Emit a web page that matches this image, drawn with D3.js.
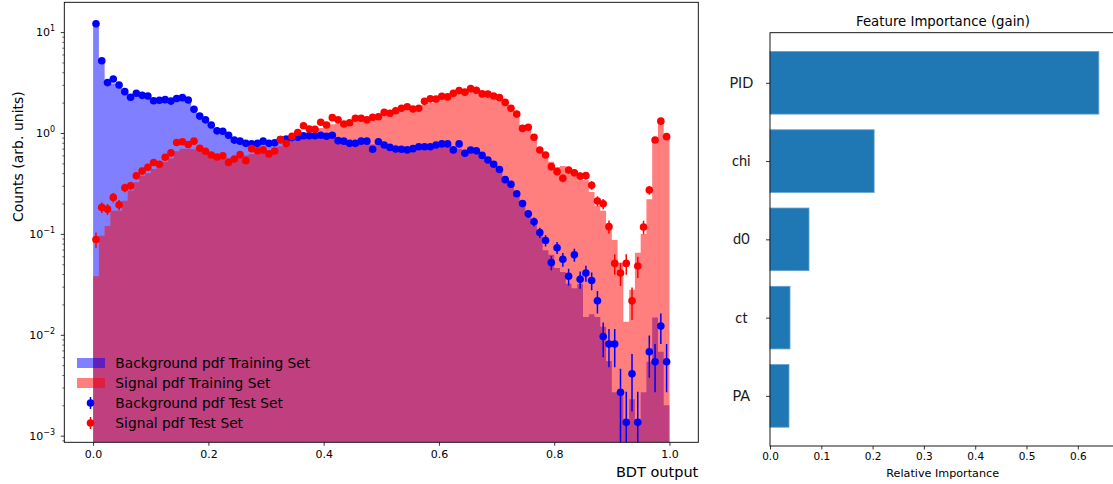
<!DOCTYPE html>
<html><head><meta charset="utf-8">
<script src="https://cdn.jsdelivr.net/npm/d3@7"></script>
<style>
html,body{margin:0;padding:0;background:#fff;}
svg text{font-family:"DejaVu Sans",sans-serif;fill:#000;}
</style></head>
<body>
<svg id="c" width="1113" height="484"></svg>
<script>
// ---------------- DATA ----------------
const nBins = 100;
const bkgTrain = [12.0,5.3,3.3,3.1,2.8,2.6,2.4,2.35,2.3,2.25,2.15,2.1,2.1,2.1,2.15,2.2,2.1,1.8,1.55,1.38,
1.22,1.1,1.0,0.93,0.86,0.82,0.79,0.78,0.78,0.8,0.81,0.82,0.85,0.87,0.89,0.9,0.92,0.93,0.93,0.92,
0.9,0.88,0.85,0.82,0.8,0.79,0.79,0.78,0.77,0.75,0.73,0.71,0.7,0.7,0.7,0.71,0.72,0.73,0.74,0.75,
0.75,0.74,0.72,0.7,0.68,0.66,0.63,0.58,0.52,0.47,0.41,0.35,0.3,0.24,0.19,0.15,0.122,0.098,0.069,0.062,
0.046,0.042,0.032,0.029,0.032,0.015,0.016,0.015,0.012,0.0055,0.0027,0.0027,0.00135,0.0023,0.00135,0.0027,0.0054,0.0148,0.0068,0.002];
const sigTrain = [0.038,0.096,0.12,0.17,0.17,0.213,0.268,0.325,0.377,0.4,0.44,0.47,0.52,0.56,0.66,0.7,0.7,0.69,0.66,0.63,
0.6,0.58,0.57,0.57,0.57,0.59,0.6,0.62,0.64,0.66,0.68,0.71,0.74,0.78,0.83,0.9,0.98,1.03,1.07,1.12,
1.17,1.22,1.25,1.27,1.28,1.31,1.33,1.35,1.38,1.42,1.48,1.53,1.59,1.64,1.68,1.72,1.8,1.9,2.0,2.1,
2.2,2.28,2.38,2.48,2.52,2.55,2.53,2.45,2.35,2.22,2.08,1.9,1.68,1.5,1.2,1.07,0.85,0.67,0.6,0.52,
0.46,0.47,0.43,0.4,0.375,0.34,0.26,0.19,0.17,0.118,0.087,0.052,0.0135,0.028,0.065,0.1,0.22,0.85,1.22,0.92];
const bkgTest = [12.1,5.2,3.16,3.43,2.99,2.57,2.26,2.48,2.36,2.33,2.09,2.11,2.14,2.07,2.2,2.24,2.12,1.72,1.47,1.35,
1.2,1.05,1.04,0.95,0.85,0.83,0.79,0.78,0.79,0.83,0.79,0.8,0.86,0.87,0.9,0.91,0.94,0.94,0.94,0.95,
0.93,0.95,0.84,0.83,0.79,0.79,0.83,0.83,0.69,0.82,0.76,0.72,0.695,0.69,0.68,0.7,0.73,0.73,0.73,0.76,
0.78,0.78,0.68,0.78,0.63,0.678,0.665,0.6,0.54,0.49,0.435,0.345,0.31,0.25,0.2,0.158,0.132,0.103,0.086,0.052,
0.073,0.056,0.038,0.062,0.0355,0.041,0.0345,0.0217,0.0096,0.0081,0.0081,0.0027,0.00136,0.0041,0.00136,0,0.0068,0.0054,0.0122,0.0054];
const sigTest = [0.088,0.183,0.176,0.23,0.194,0.286,0.3,0.377,0.42,0.457,0.51,0.49,0.574,0.635,0.805,0.82,0.77,0.83,0.705,0.66,
0.605,0.578,0.596,0.51,0.553,0.61,0.532,0.7,0.668,0.68,0.62,0.662,0.86,0.785,0.925,1.01,1.18,1.095,1.09,1.28,
1.2,1.42,1.35,1.23,1.265,1.4,1.4,1.35,1.43,1.45,1.6,1.57,1.66,1.76,1.82,1.73,1.76,2.06,2.18,2.17,
2.31,2.28,2.47,2.63,2.54,2.75,2.65,2.44,2.43,2.33,2.24,2.01,1.76,1.54,1.11,1.14,0.906,0.678,0.605,0.464,
0.414,0.356,0.43,0.404,0.375,0.378,0.303,0.212,0.199,0.118,0.051,0.041,0.051,0.0217,0.048,0.117,0.272,0.852,1.31,0.92];
// test-set counts per unit of normalised density (for Poisson error bars)
const bkgTestNorm = 735, sigTestNorm = 370;

const xTicksLeft = [0.0,0.2,0.4,0.6,0.8,1.0];
const yDecades = [-3,-2,-1,0,1];
const legendLabels = ["Background pdf Training Set","Signal pdf Training Set","Background pdf Test Set","Signal pdf Test Set"];

const features = ["PA","ct","d0","chi","PID"];
const importance = [0.037,0.039,0.076,0.203,0.641];
const xTicksRight = [0,0.1,0.2,0.3,0.4,0.5,0.6];

// ---------------- LEFT CHART ----------------
const svg = d3.select("#c");
const L = {left:64.3, right:698.3, top:2.3, bottom:442.3};
const x = d3.scaleLinear().domain([-0.05,1.05]).range([L.left,L.right]);
const yMin = Math.pow(10,-3.0654), yMax = Math.pow(10,1.2953);
const y = d3.scaleLog().domain([yMin,yMax]).range([L.bottom,L.top]);

svg.append("defs").append("clipPath").attr("id","clipL")
  .append("rect").attr("x",L.left).attr("y",L.top).attr("width",L.right-L.left).attr("height",L.bottom-L.top);

const gL = svg.append("g");
const plot = gL.append("g").attr("clip-path","url(#clipL)");
const edges = d3.range(nBins+1).map(i=>i/nBins);
const centers = d3.range(nBins).map(i=>(i+0.5)/nBins);
const lineGen = d3.line().x(d=>x(d[0])).y(d=>y(d[1]));
function stepPts(vals){
  const pts=[[0,yMin]];
  vals.forEach((v,i)=>{const vv=v>0?v:yMin; pts.push([edges[i],vv],[edges[i+1],vv]);});
  pts.push([1,yMin]);
  return pts;
}
plot.append("path").attr("d",lineGen(stepPts(bkgTrain))+"Z").attr("fill","blue").attr("fill-opacity",0.5);
plot.append("path").attr("d",lineGen(stepPts(sigTrain))+"Z").attr("fill","red").attr("fill-opacity",0.5);

function drawTest(vals,norm,color){
  const g = plot.append("g");
  vals.forEach((v,i)=>{
    if(!(v>0)) return;
    const err = Math.sqrt(v/norm);
    const lo = Math.max(v-err,1e-7);
    g.append("line").attr("x1",x(centers[i])).attr("x2",x(centers[i]))
      .attr("y1",y(lo)).attr("y2",y(v+err)).attr("stroke",color).attr("stroke-width",1.5);
    g.append("circle").attr("cx",x(centers[i])).attr("cy",y(v)).attr("r",3.8).attr("fill",color);
  });
}
drawTest(bkgTest,bkgTestNorm,"blue");
drawTest(sigTest,sigTestNorm,"red");

// frame
gL.append("rect").attr("x",L.left).attr("y",L.top).attr("width",L.right-L.left).attr("height",L.bottom-L.top)
  .attr("fill","none").attr("stroke","#000").attr("stroke-width",0.9);

// x axis
const xAx = gL.append("g").attr("transform",`translate(0,${L.bottom})`)
  .call(d3.axisBottom(x).tickValues(xTicksLeft).tickFormat(d3.format(".1f")).tickSize(3.5).tickPadding(4));
xAx.select(".domain").remove();
xAx.selectAll("text").attr("font-size",11).attr("font-family","DejaVu Sans");
xAx.selectAll("line").attr("stroke","#000").attr("stroke-width",0.8);

// y axis major
const majors = yDecades.map(e=>Math.pow(10,e));
const yAx = gL.append("g").attr("transform",`translate(${L.left},0)`)
  .call(d3.axisLeft(y).tickValues(majors).tickFormat("").tickSize(3.5));
yAx.select(".domain").remove();
yAx.selectAll("line").attr("stroke","#000").attr("stroke-width",0.8);
const minors=[];
for(let e=-4;e<=1;e++) for(let m=2;m<=9;m++){const v=m*Math.pow(10,e); if(v>=yMin&&v<=yMax) minors.push(v);}
const yAxm = gL.append("g").attr("transform",`translate(${L.left},0)`)
  .call(d3.axisLeft(y).tickValues(minors).tickFormat("").tickSize(2));
yAxm.select(".domain").remove();
yAxm.selectAll("line").attr("stroke","#000").attr("stroke-width",0.6);
yDecades.forEach(e=>{
  const yy = y(Math.pow(10,e));
  const t = gL.append("text").attr("x",55).attr("y",yy+4).attr("text-anchor","end").attr("font-size",11);
  t.append("tspan").text("10");
  t.append("tspan").attr("dy",-5).attr("font-size",8).text(e<0?"\u2212"+(-e):String(e));
});

// axis labels
gL.append("text").attr("x",L.right).attr("y",477.3).attr("text-anchor","end").attr("font-size",14.5).text("BDT output");
gL.append("text").attr("transform","translate(22.5,222) rotate(-90)").attr("text-anchor","start").attr("font-size",14).text("Counts (arb. units)");

// legend
const leg = gL.append("g");
const legY = [363,383,403,423];
leg.append("rect").attr("x",77).attr("y",legY[0]-5).attr("width",28).attr("height",10).attr("fill","blue").attr("fill-opacity",0.5);
leg.append("rect").attr("x",77).attr("y",legY[1]-5).attr("width",28).attr("height",10).attr("fill","red").attr("fill-opacity",0.5);
[["blue",legY[2]],["red",legY[3]]].forEach(([c,yy])=>{
  leg.append("line").attr("x1",90.5).attr("x2",90.5).attr("y1",yy-6).attr("y2",yy+6).attr("stroke",c).attr("stroke-width",1.5);
  leg.append("circle").attr("cx",90.5).attr("cy",yy).attr("r",3.8).attr("fill",c);
});
legendLabels.forEach((s,i)=>{
  leg.append("text").attr("x",115.3).attr("y",legY[i]+5).attr("font-size",13.8).text(s);
});

// ---------------- RIGHT CHART ----------------
const R = {left:770, right:1115, top:32.7, bottom:446};
const xr = d3.scaleLinear().domain([0,0.6725]).range([R.left,R.right]);
const yr = d3.scaleLinear().domain([-0.64,4.64]).range([R.bottom,R.top]);
const gR = svg.append("g");
gR.selectAll("rect.bar").data(importance).enter().append("rect").attr("class","bar")
  .attr("x",xr(0)).attr("y",(d,i)=>yr(i+0.4)).attr("width",d=>xr(d)-xr(0)).attr("height",(d,i)=>yr(i-0.4)-yr(i+0.4))
  .attr("fill","#1f77b4").attr("stroke","#62a0d2").attr("stroke-width",0.8);
gR.append("rect").attr("x",R.left).attr("y",R.top).attr("width",R.right-R.left).attr("height",R.bottom-R.top)
  .attr("fill","none").attr("stroke","#000").attr("stroke-width",0.9);
const xrAx = gR.append("g").attr("transform",`translate(0,${R.bottom})`)
  .call(d3.axisBottom(xr).tickValues(xTicksRight).tickFormat(d3.format(".1f")).tickSize(3.5).tickPadding(3));
xrAx.select(".domain").remove();
xrAx.selectAll("text").attr("font-size",10.5).attr("font-family","DejaVu Sans");
xrAx.selectAll("line").attr("stroke","#000").attr("stroke-width",0.8);
const yrAx = gR.append("g").attr("transform",`translate(${R.left},0)`)
  .call(d3.axisLeft(yr).tickValues(d3.range(features.length)).tickFormat("").tickSize(4));
yrAx.select(".domain").remove();
yrAx.selectAll("line").attr("stroke","#000").attr("stroke-width",0.8);
features.forEach((f,i)=>{
  gR.append("text").attr("x",741.3).attr("y",yr(i)+5).attr("text-anchor","middle")
    .attr("font-size",14.5).style("font-family","Lato, 'Open Sans', sans-serif").style("fill","#1a1a1a").text(f);
});
gR.append("text").attr("x",943).attr("y",25.8).attr("text-anchor","middle").attr("font-size",13.3).text("Feature Importance (gain)");
gR.append("text").attr("x",942.7).attr("y",477).attr("text-anchor","middle").attr("font-size",11.2).text("Relative Importance");
</script>
</body></html>
